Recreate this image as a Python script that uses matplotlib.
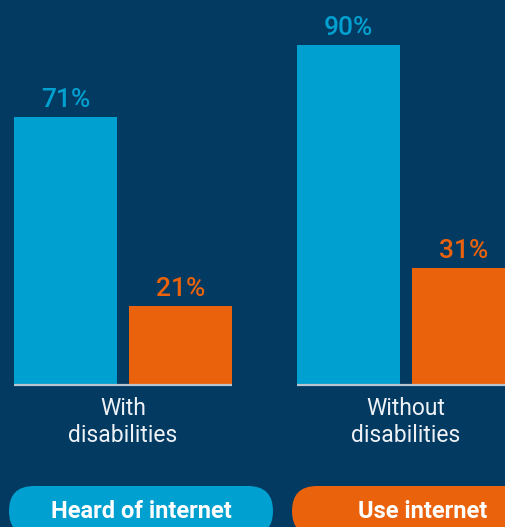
import matplotlib

matplotlib.use("Agg")

import matplotlib.pyplot as plt
import numpy as np
from matplotlib.patches import FancyBboxPatch

plt.rcParams["font.family"] = ["Roboto", "DejaVu Sans"]

# awareness / usage of the internet, % of respondents
groups = ["With\ndisabilities", "Without\ndisabilities"]
series = ["Heard of internet", "Use internet"]
heard = [71, 90]
use = [21, 31]

NAVY = "#023a62"
BLUE = "#00a0d0"
ORANGE = "#eb620c"
BASE = "#b9c4cf"

W, H, DPI = 505, 527, 100
fig = plt.figure(figsize=(W / DPI, H / DPI), dpi=DPI, facecolor=NAVY)
ax = fig.add_axes([0, 0, 1, 1])
ax.set_facecolor(NAVY)
ax.axis("off")

# one group unit = 283 px, baseline at 385 px from the top, 3.778 px per %
unit, base_px, per_pct = 283.0, 385.0, 3.778
ax.set_xlim(-123 / unit, (W - 123) / unit)
ax.set_ylim(-(H - base_px) / per_pct, base_px / per_pct)

x = np.arange(len(groups))
bw, off = 103 / unit, 57.5 / unit

ax.bar(x - off, heard, width=bw, color=BLUE, zorder=2)
ax.bar(x + off, use, width=bw, color=ORANGE, zorder=2)
ax.hlines(np.zeros(len(x)), x - off - bw / 2, x + off + bw / 2,
          color=BASE, lw=1.6, zorder=3)

for xi, v in zip(x - off, heard):
    ax.annotate(f"{v}%", (xi, v), xytext=(0, 7), textcoords="offset points",
                ha="center", va="baseline", color=BLUE, fontsize=19,
                fontweight="medium")
for xi, v in zip(x + off, use):
    ax.annotate(f"{v}%", (xi, v), xytext=(0, 7), textcoords="offset points",
                ha="center", va="baseline", color=ORANGE, fontsize=19,
                fontweight="medium")

for xi, g in zip(x, groups):
    ax.annotate(g, (xi, H - 397), xycoords=("data", "figure pixels"),
                ha="center", va="top", color="#eef2f6", fontsize=16.5,
                linespacing=1.2)

# legend pills along the bottom edge (inches, so the rounding stays circular)
pills = [(0.09, 2.64, BLUE), (2.92, 2.62, ORANGE)]
for (x0, w, c), label in zip(pills, series):
    ax.add_patch(FancyBboxPatch((x0, -0.09), w, 0.50,
                                boxstyle="round,pad=0,rounding_size=0.25",
                                transform=fig.dpi_scale_trans, fc=c, ec="none",
                                clip_on=False, zorder=4))
    ax.text(x0 + w / 2, 0.16, label, transform=fig.dpi_scale_trans,
            ha="center", va="center", color="white", fontsize=17,
            fontweight="bold", zorder=5)

fig.savefig("out.png", dpi=DPI, facecolor=NAVY)
